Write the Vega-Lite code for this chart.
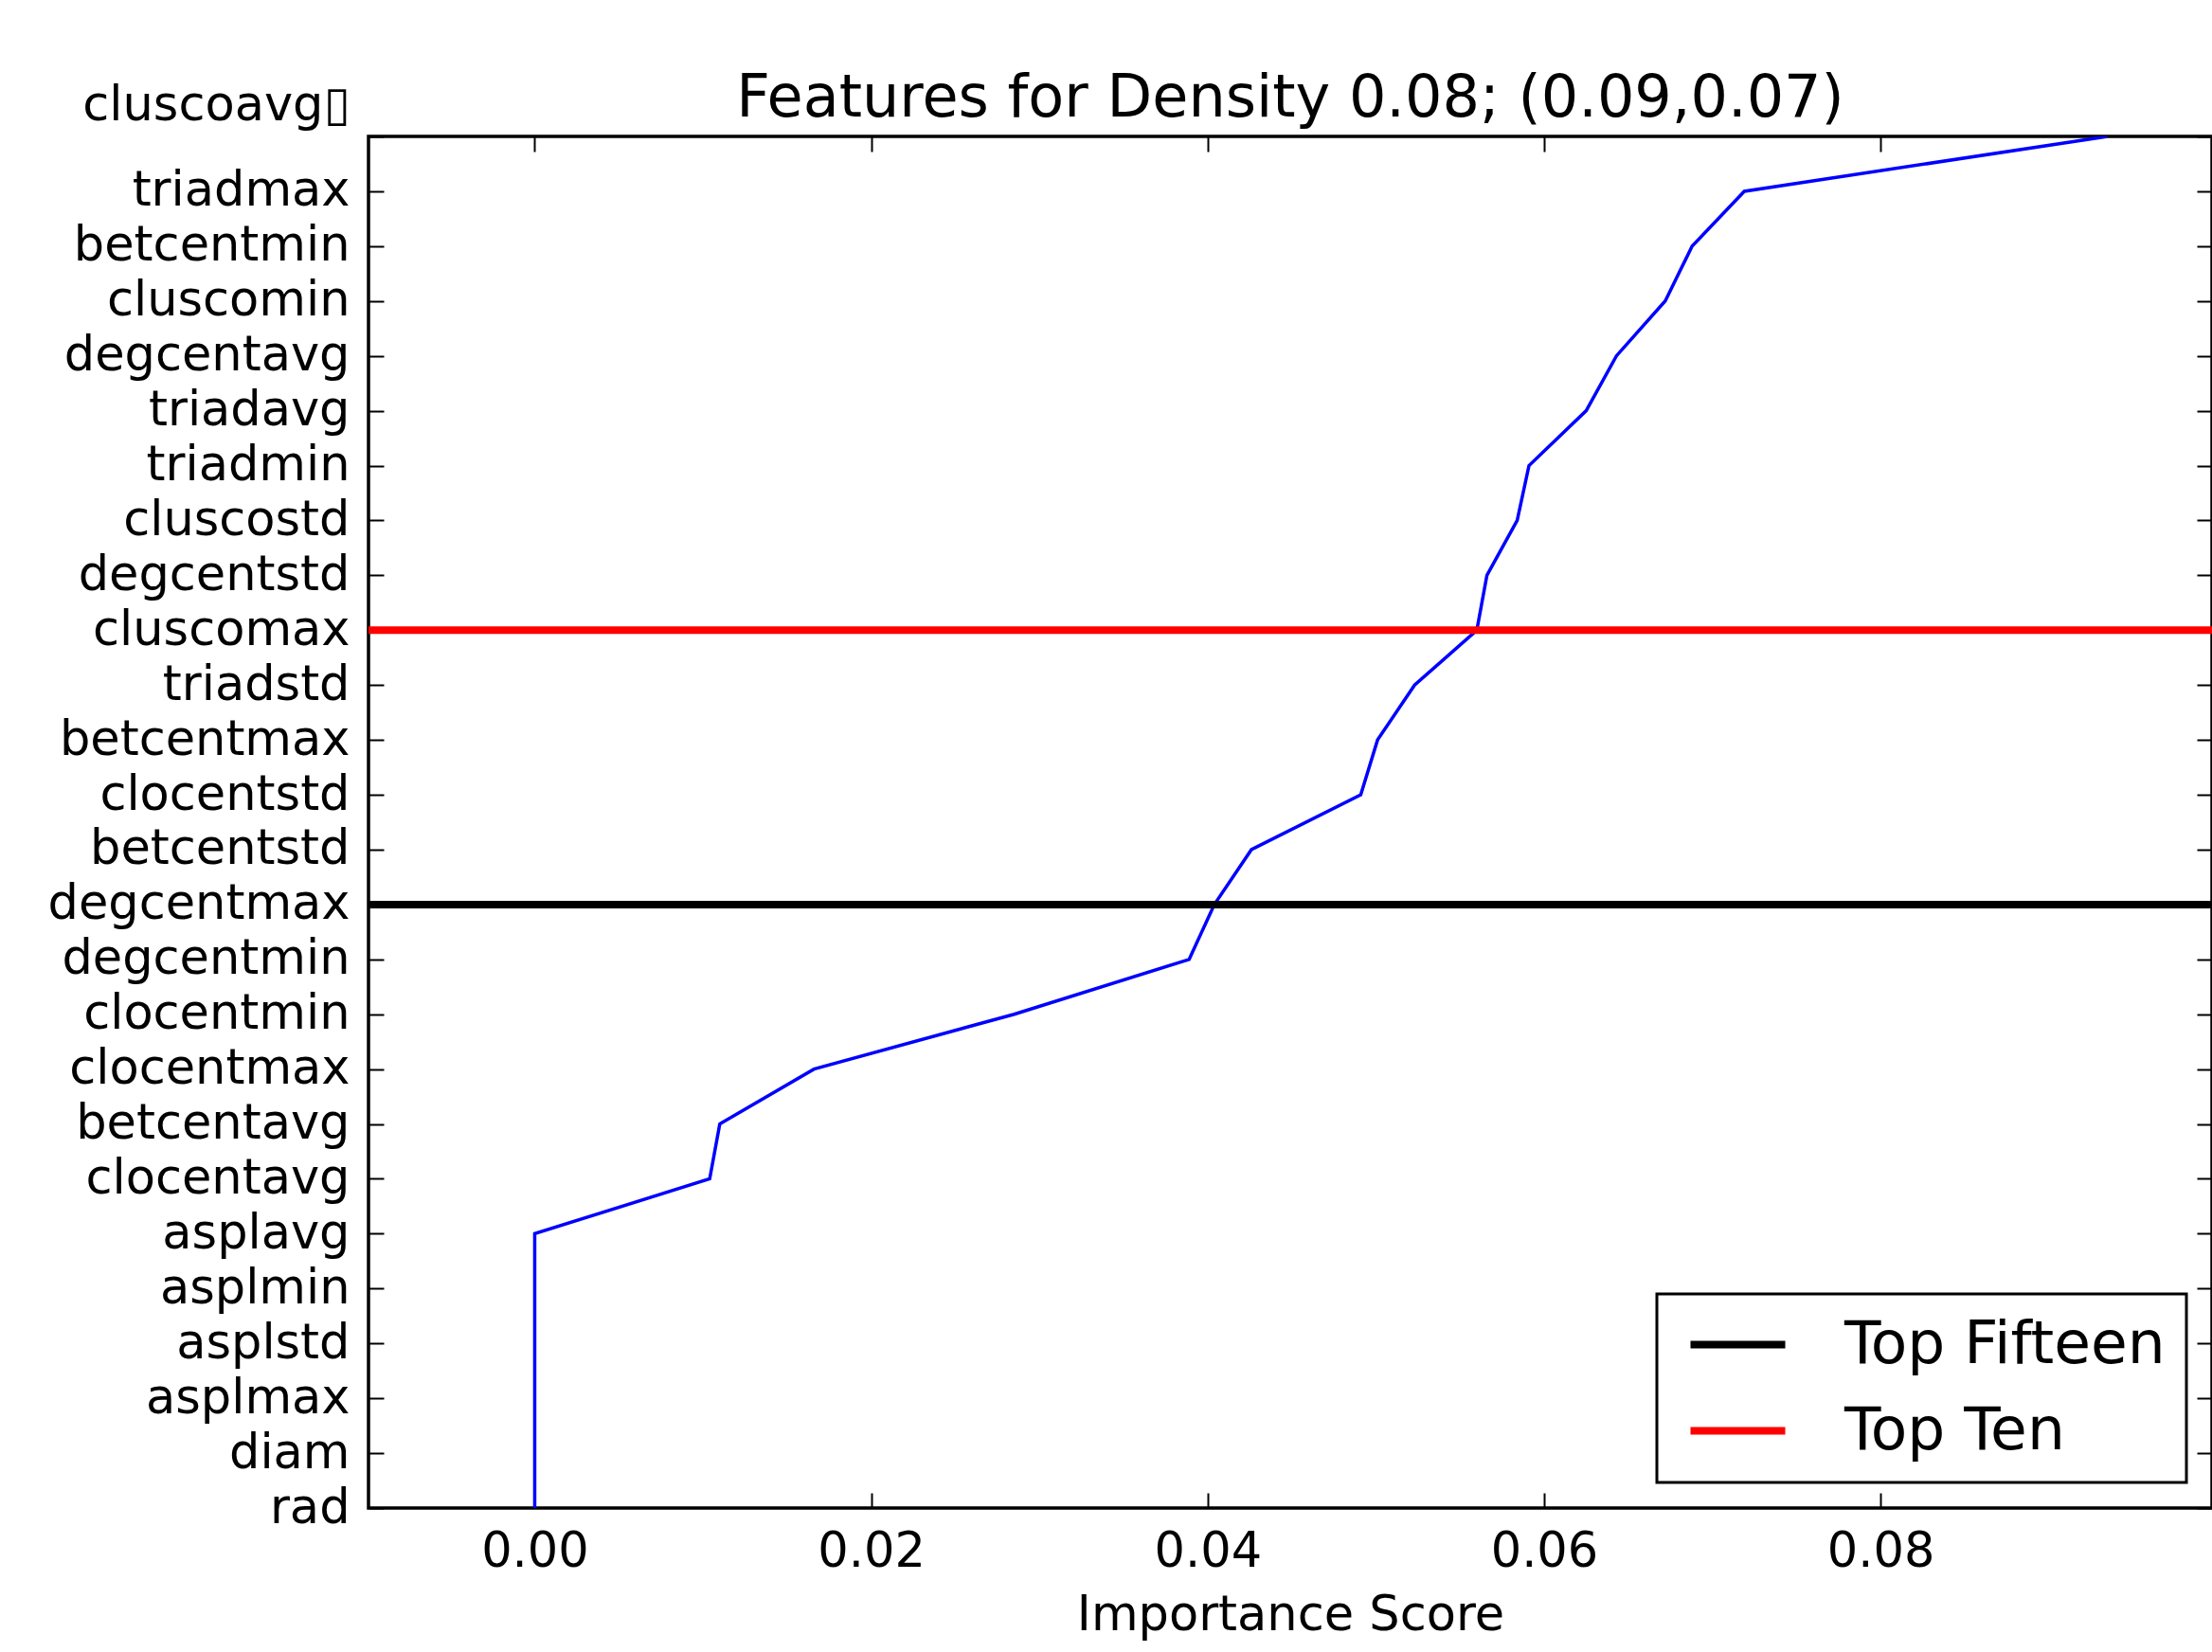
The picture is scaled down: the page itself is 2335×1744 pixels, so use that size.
{
  "$schema": "https://vega.github.io/schema/vega-lite/v6.json",
  "autosize": {"type": "none"},
  "padding": {"left": 389, "top": 144, "right": 0, "bottom": 152},
  "width": 1946,
  "height": 1448,
  "background": "white",
  "title": {
    "text": "Features for Density 0.08; (0.09,0.07)",
    "fontSize": 62,
    "font": "DejaVu Sans",
    "fontWeight": "normal",
    "color": "black",
    "anchor": "middle",
    "baseline": "alphabetic",
    "offset": -100
  },
  "datasets": {
    "scores": [
      {"feature": "cluscoavg", "score": 0.0935},
      {"feature": "triadmax", "score": 0.0719},
      {"feature": "betcentmin", "score": 0.0688},
      {"feature": "cluscomin", "score": 0.0672},
      {"feature": "degcentavg", "score": 0.0643},
      {"feature": "triadavg", "score": 0.0625},
      {"feature": "triadmin", "score": 0.0591},
      {"feature": "cluscostd", "score": 0.0584},
      {"feature": "degcentstd", "score": 0.0566},
      {"feature": "cluscomax", "score": 0.0560},
      {"feature": "triadstd", "score": 0.0523},
      {"feature": "betcentmax", "score": 0.0501},
      {"feature": "clocentstd", "score": 0.0491},
      {"feature": "betcentstd", "score": 0.0426},
      {"feature": "degcentmax", "score": 0.0404},
      {"feature": "degcentmin", "score": 0.0389},
      {"feature": "clocentmin", "score": 0.0285},
      {"feature": "clocentmax", "score": 0.0166},
      {"feature": "betcentavg", "score": 0.0110},
      {"feature": "clocentavg", "score": 0.0104},
      {"feature": "asplavg", "score": 0},
      {"feature": "asplmin", "score": 0},
      {"feature": "asplstd", "score": 0},
      {"feature": "asplmax", "score": 0},
      {"feature": "diam", "score": 0},
      {"feature": "rad", "score": 0}
    ],
    "cutoffs": [
      {"label": "Top Fifteen", "feature": "degcentmax"},
      {"label": "Top Ten", "feature": "cluscomax"}
    ]
  },
  "layer": [
    {
      "data": {"name": "scores"},
      "mark": {"type": "line", "color": "#0000ff", "strokeWidth": 3.5, "clip": true},
      "encoding": {
        "x": {
          "field": "score", "type": "quantitative",
          "scale": {"domain": [-0.00988, 0.0997], "nice": false, "zero": false},
          "axis": {
            "orient": "bottom", "values": [0, 0.02, 0.04, 0.06, 0.08], "format": ".2f",
            "title": "Importance Score", "titlePadding": 17
          }
        },
        "y": {
          "field": "feature", "type": "nominal",
          "scale": {"type": "point", "padding": 0, "domain": ["cluscoavg","triadmax","betcentmin","cluscomin","degcentavg","triadavg","triadmin","cluscostd","degcentstd","cluscomax","triadstd","betcentmax","clocentstd","betcentstd","degcentmax","degcentmin","clocentmin","clocentmax","betcentavg","clocentavg","asplavg","asplmin","asplstd","asplmax","diam","rad"]},
          "axis": {
            "orient": "left", "title": null, "labelPadding": 36,
            "labelExpr": "datum.value == 'cluscoavg' ? 'cluscoavg\u25af' : datum.value",
            "labelOffset": {"condition": {"test": "datum.value == 'cluscoavg'", "value": -33}, "value": 0}
          }
        },
        "order": {"value": null}
      }
    },
    {
      "data": {"name": "scores"},
      "mark": {"type": "line", "strokeOpacity": 0},
      "encoding": {
        "x": {
          "field": "score", "type": "quantitative",
          "axis": {"orient": "top", "values": [0, 0.02, 0.04, 0.06, 0.08], "labels": false, "title": null}
        },
        "y": {
          "field": "feature", "type": "nominal",
          "axis": {"orient": "right", "labels": false, "title": null}
        },
        "order": {"value": null}
      }
    },
    {
      "data": {"name": "cutoffs"},
      "mark": {"type": "rule", "strokeWidth": 8},
      "encoding": {
        "y": {"field": "feature", "type": "nominal", "axis": null},
        "color": {
          "field": "label", "type": "nominal",
          "scale": {"domain": ["Top Fifteen", "Top Ten"], "range": ["black", "#ff0000"]},
          "legend": {
            "orient": "bottom-right", "offset": 27, "title": null,
            "labelFontSize": 63, "labelFont": "DejaVu Sans", "labelColor": "black", "labelLimit": 0,
            "symbolType": "M-0.72,0H3.28", "symbolSize": 2500, "symbolStrokeWidth": 8,
            "labelOffset": 113, "padding": 22, "rowPadding": 27,
            "strokeColor": "black", "fillColor": "white", "cornerRadius": 0,
            "encode": {"legend": {"update": {"strokeWidth": {"value": 3}}}}
          }
        }
      }
    }
  ],
  "resolve": {"axis": {"x": "independent", "y": "independent"}},
  "config": {
    "font": "DejaVu Sans",
    "view": {"stroke": "black", "strokeWidth": 3.5},
    "axis": {
      "domain": false, "grid": false,
      "tickSize": -16, "tickWidth": 2, "tickColor": "black",
      "labelFontSize": 51, "labelColor": "black", "labelFont": "DejaVu Sans",
      "labelOverlap": false, "labelFlush": false, "labelPadding": 37, "labelLimit": 0,
      "titleFontSize": 51, "titleFontWeight": "normal", "titleColor": "black", "titleFont": "DejaVu Sans"
    }
  }
}
